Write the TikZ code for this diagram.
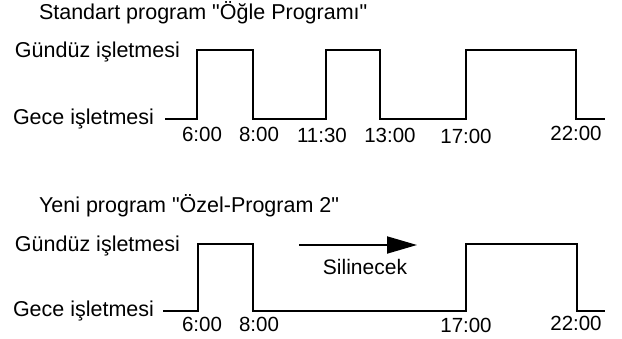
\documentclass[tikz,border=0pt]{standalone}
\usepackage{fontspec}
\setmainfont{Liberation Sans}
\usetikzlibrary{arrows.meta}
\begin{document}
\begin{tikzpicture}[x=1pt,y=-1pt,
  lbl/.style={inner sep=0pt,outer sep=0pt,font=\fontsize{21.5}{25}\selectfont},
  wave/.style={line width=1.9pt,line join=miter,line cap=butt},
  tlbl/.style={inner sep=0pt,outer sep=0pt,font=\fontsize{20.5}{24}\selectfont,anchor=base}]
\useasboundingbox (0,0) rectangle (622,338);
% ---------- top chart ----------
\node[lbl,anchor=base west] (t1) at (39,19) {Standart program \textquotedbl Öğle Programı\textquotedbl};
\node[lbl,anchor=base west] (g1) at (15,57) {Gündüz işletmesi};
\node[lbl,anchor=base west] (n1) at (13,124) {Gece işletmesi};
\coordinate (s1) at (165,119);
\coordinate (e1) at (605,119);
\draw[wave] (s1) -- (197,119) -- (197,50) -- (253,50) -- (253,119)
  -- (326,119) -- (326,50) -- (380,50) -- (380,119)
  -- (466,119) -- (466,50) -- (576,50) -- (576,119) -- (e1);
\node[tlbl] (a600) at (202,141) {6:00};
\node[tlbl] (a800) at (259,141) {8:00};
\node[tlbl] (a1130) at (322,142) {11:30};
\node[tlbl] (a1300) at (390,142) {13:00};
\node[tlbl] (a1700) at (466,143) {17:00};
\node[tlbl] (a2200) at (576,140) {22:00};
% ---------- bottom chart ----------
\node[lbl,anchor=base west] (t2) at (39,212) {Yeni program \textquotedbl Özel-Program 2\textquotedbl};
\node[lbl,anchor=base west] (g2) at (15,251) {Gündüz işletmesi};
\node[lbl,anchor=base west] (n2) at (13,316) {Gece işletmesi};
\coordinate (s2) at (163,311);
\coordinate (e2) at (605,311);
\draw[wave] (s2) -- (198,311) -- (198,244) -- (253,244) -- (253,311)
  -- (466,311) -- (466,244) -- (577,244) -- (577,311) -- (e2);
\node[tlbl] (b600) at (202,331) {6:00};
\node[tlbl] (b800) at (259,331) {8:00};
\node[tlbl] (b1700) at (466,332) {17:00};
\node[tlbl] (b2200) at (576,330) {22:00};
\coordinate (arS) at (299,245);
\coordinate (arE) at (417,245);
\draw[line width=1.9pt,-{Triangle[length=30pt,width=17pt]}] (arS) -- (arE);
\node[inner sep=0pt,font=\fontsize{21}{25}\selectfont,anchor=base] (sil) at (365,274) {Silinecek};
\end{tikzpicture}
\end{document}
